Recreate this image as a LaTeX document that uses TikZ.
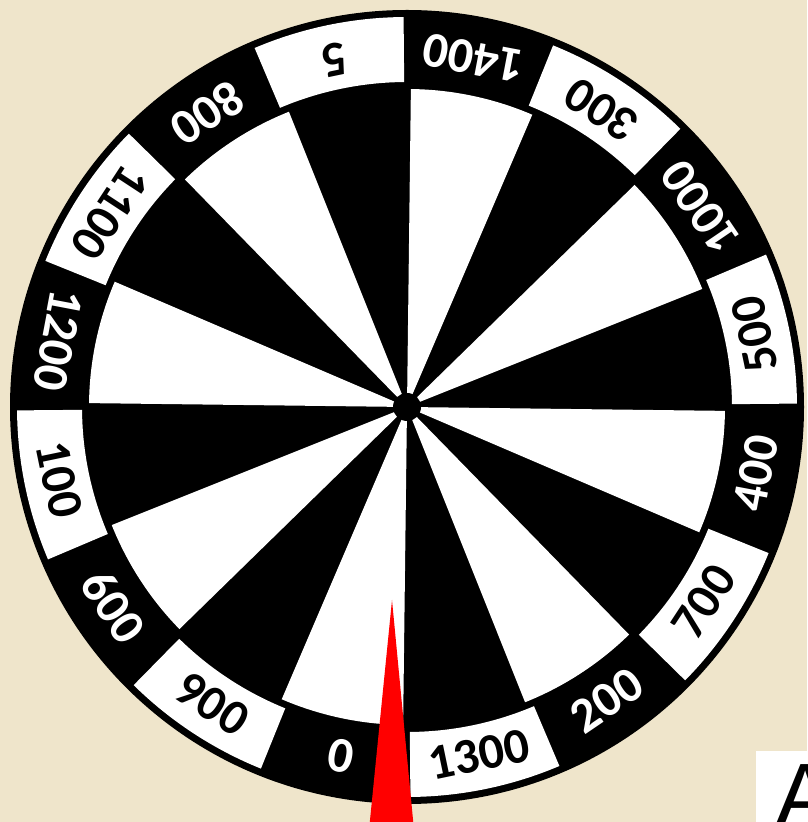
\documentclass[tikz,border=0pt]{standalone}
\usepackage{fontspec}
\newfontfamily\labfont{Carlito}
\newfontfamily\afont{Liberation Sans}
\definecolor{parch}{RGB}{239,229,203}
\definecolor{pointerred}{RGB}{255,0,0}
\begin{document}
\begin{tikzpicture}[x=1pt,y=1pt,
  numlab/.style={font=\labfont\bfseries\fontsize{50}{50}\selectfont, inner sep=0pt, anchor=center},
  bigletter/.style={font=\afont\fontsize{90}{90}\selectfont, inner sep=0pt, anchor=base west}]
\clip (0,0) rectangle (807,822);
\fill[parch] (0,0) rectangle (807,822);
\begin{scope}[shift={(407,415)}]
  \fill[black] (0,0) circle[radius=397pt];
  % outer white label boxes
  \foreach \j in {0,...,7}{
    \pgfmathsetmacro\aa{45-45*\j+0.5}
    \pgfmathsetmacro\ab{67.5-45*\j+0.5}
    \fill[white] (\aa:325pt) arc[start angle=\aa, end angle=\ab, radius=325pt]
      -- (\ab:390pt) arc[start angle=\ab, end angle=\aa, radius=390pt] -- cycle;
  }
  % inner white wedges
  \foreach \j in {0,...,7}{
    \pgfmathsetmacro\ia{67.5-45*\j-0.7}
    \pgfmathsetmacro\ib{90-45*\j-0.7}
    \fill[white] (0,0) -- (\ia:318pt) arc[start angle=\ia, end angle=\ib, radius=318pt] -- cycle;
  }
  \fill[black] (0,0) circle[radius=14pt];
  % labels
  \foreach \t [count=\k from 0] in {1400,300,1000,500,400,700,200,1300,0,900,600,100,1200,1100,800,5}{
    \pgfmathsetmacro\m{78.75-22.5*\k+0.5}
    \pgfmathsetmacro\r{\m+90}
    \ifodd\k\def\tc{black}\else\def\tc{white}\fi
    \node[numlab, text=\tc, rotate=\r] (lab\k) at (\m:355pt) {\t};
  }
\end{scope}
% red pointer
\fill[pointerred] (392,222) -- (369,-8) -- (414,-8) -- cycle;
% partial box with letter at bottom right
\fill[white] (756,71) rectangle (812,-5);
\node[bigletter] (letterA) at (775,-5) {A};
\end{tikzpicture}
\end{document}
